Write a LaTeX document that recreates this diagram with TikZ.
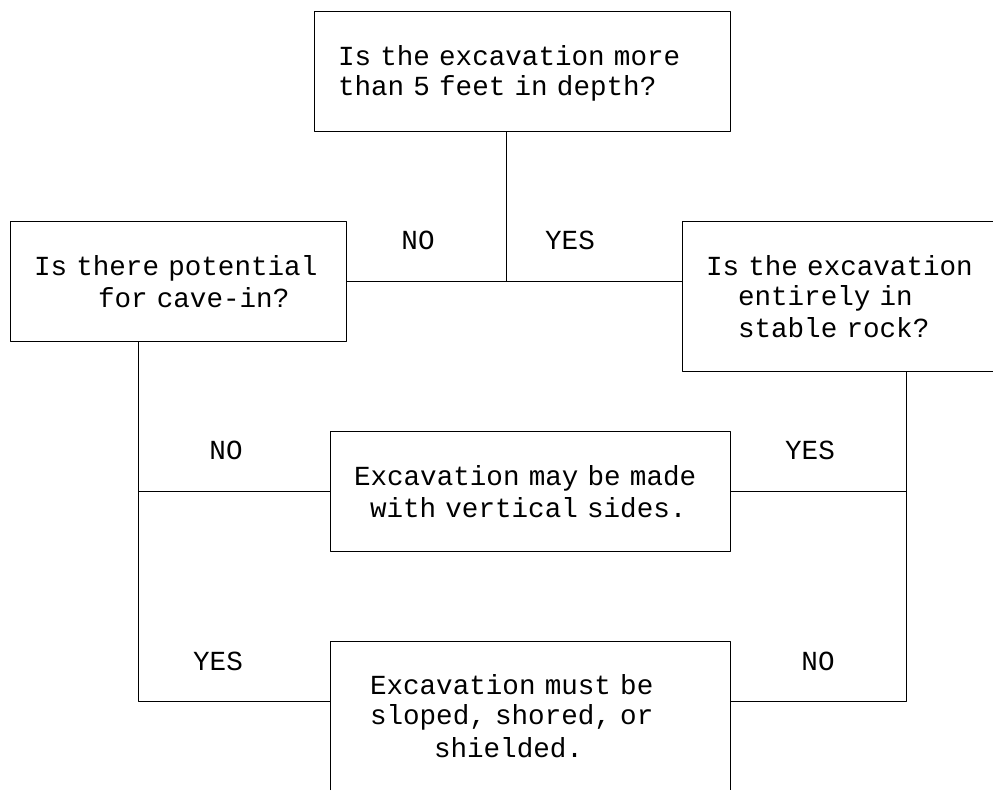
\documentclass[tikz,border=0pt]{standalone}
\usepackage{fontspec}
\newfontfamily\courfont{Liberation Mono}
\newcommand\courset{\courfont\fontsize{27.6pt}{30pt}\selectfont}
\newcommand\lnind[1]{\rule[-4.5pt]{0pt}{30pt}\hspace*{#1pt}}
\begin{document}
\begin{tikzpicture}[x=1pt, y=-1pt, line width=1pt, line join=round, font=\courset,
	box/.style={inner sep=0pt, outer sep=0pt, align=left, anchor=north west},
	lbl/.style={inner sep=0pt}]
	\useasboundingbox (0,0) rectangle (993,790);
	\node[box, draw, text width=416pt, minimum height=120pt] (depth) at (314,11) {\lnind{24}Is the excavation more\\\lnind{24}than 5 feet in depth?};
	\node[box, draw, text width=336pt, minimum height=120pt] (cave) at (10,221) {\lnind{24}Is there potential\\\lnind{88}for cave-in?};
	\node[box, text width=311pt, minimum height=150pt] (rock) at (682,221) {\lnind{24}Is the excavation\\\lnind{56}entirely in\\\lnind{56}stable rock?};
	\node[box, draw, text width=400pt, minimum height=120pt] (vert) at (330,431) {\lnind{24}Excavation may be made\\\lnind{40}with vertical sides.};
	\node[box, text width=400pt, minimum height=149pt] (slope) at (330,641) {\lnind{40}Excavation must be\\\lnind{40}sloped, shored, or\\\lnind{104}shielded.};
	\draw (rock.north east) -- (rock.north west) -- (rock.south west) -- (rock.south east);
	\draw (slope.south west) -- (slope.north west) -- (slope.north east) -- (slope.south east);
	\coordinate (j) at (506,281);
	\coordinate (l) at (138,701);
	\coordinate (r) at (906,701);
	\draw (depth.south -| j) -- (j);
	\draw (cave.east) -- (cave.east -| rock.west);
	\draw (cave.south -| l) -- (l) -- (l -| slope.west);
	\draw (vert.west -| l) -- (vert.west);
	\draw (rock.south -| r) -- (r) -- (r -| slope.east);
	\draw (vert.east -| r) -- (vert.east);
	\node[lbl] (no1) at (418,240) {NO};
	\node[lbl] (yes1) at (570,240) {YES};
	\node[lbl] (no2) at (226,450) {NO};
	\node[lbl] (yes2) at (810,450) {YES};
	\node[lbl] (yes3) at (218,661) {YES};
	\node[lbl] (no3) at (818,661) {NO};
\end{tikzpicture}
\end{document}
